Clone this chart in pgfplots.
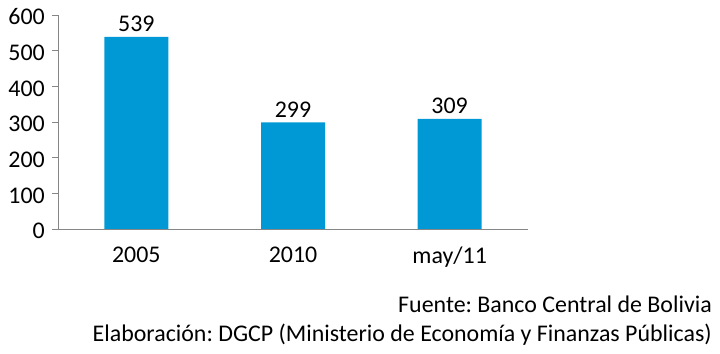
\documentclass[border=0pt]{standalone}
\usepackage{fontspec}
\setmainfont{Carlito}
\usepackage{pgfplots}
\pgfplotsset{compat=1.18}
\definecolor{barblue}{RGB}{0,153,214}
\definecolor{axgray}{RGB}{134,134,134}
\begin{document}
\frenchspacing
\begin{tikzpicture}
\path[use as bounding box] (0,0) rectangle (720bp,354bp);
\begin{axis}[
  at={(58bp,125bp)}, anchor=south west,
  scale only axis, width=470bp, height=214bp,
  xmin=-0.5, xmax=2.5, ymin=0, ymax=600,
  axis lines*=left,
  axis line style={draw=axgray, line width=0.8pt},
  ybar, bar width=64bp,
  xtick=data, xticklabels={2005,2010,may/11},
  ytick={0,100,200,300,400,500,600},
  tick align=outside,
  major tick length=6bp,
  x tick style={draw=none},
  y tick style={draw=axgray, line width=0.8pt},
  tick label style={font=\fontsize{24}{28}\selectfont, text=black},
  xticklabel style={yshift=-8bp},
  yticklabel style={yshift=-2bp, inner sep=7bp},
  /pgf/number format/assume math mode=true,
  nodes near coords,
  every node near coord/.append style={font=\fontsize{24}{28}\selectfont, text=black, inner sep=5bp},
  clip=false,
]
\addplot[fill=barblue, draw=none] coordinates {(0,539) (1,299) (2,309)};
\end{axis}
\node[anchor=base east, inner sep=0pt, font=\fontsize{24}{28}\selectfont] at (712bp,41bp) {Fuente: Banco Central de Bolivia};
\node[anchor=base east, inner sep=0pt, font=\fontsize{24}{28}\selectfont] at (712bp,13bp) {Elaboración: DGCP (Ministerio de Economía y Finanzas Públicas)};
\end{tikzpicture}
\end{document}
